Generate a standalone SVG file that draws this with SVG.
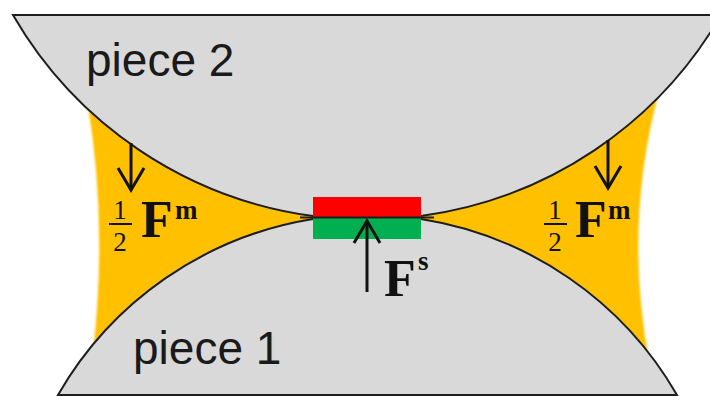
<svg xmlns="http://www.w3.org/2000/svg" width="710" height="396" viewBox="0 0 710 396">
  <style>
    .piece { fill: #d9d9d9; stroke: #1e1e1e; stroke-width: 2; }
    .meniscus { fill: #ffc000; }
    .force { fill: none; stroke: #111; stroke-width: 3; marker-end: url(#head); }
    .label { font-family: "Liberation Sans", Arial, sans-serif; font-size: 46px; fill: #1a1a1a; }
    .math { font-family: "Liberation Serif", "Times New Roman", serif; font-weight: bold; fill: #111; }
    .big { font-size: 52px; }
    .sup { font-size: 27px; }
    .frac { font-size: 27px; font-weight: normal; text-anchor: middle; }
    .bar { stroke: #111; stroke-width: 2; }
  </style>
  <defs>
    <marker id="head" markerUnits="userSpaceOnUse" markerWidth="30" markerHeight="30" viewBox="-26 -15 30 30" refX="0" refY="0" orient="auto">
      <path d="M-22,-13 L0,0 L-22,13" fill="none" stroke="#111" stroke-width="3" stroke-linejoin="miter"/>
    </marker>
    <filter id="soft" x="-5%" y="-5%" width="110%" height="110%">
      <feGaussianBlur stdDeviation="0.8"/>
    </filter>
  </defs>

  <rect width="710" height="396" fill="#ffffff"/>

  <!-- liquid bridges between the two pieces -->
  <g id="meniscus-left">
    <path class="meniscus" filter="url(#soft)" d="M87,100 Q108,222 93,352 L330,352 L330,100 Z"/>
  </g>
  <g id="meniscus-right">
    <path class="meniscus" filter="url(#soft)" d="M660,88 Q623,222 649,360 L400,360 L400,88 Z"/>
  </g>

  <!-- upper body -->
  <g id="piece2">
    <path class="piece" d="M13,15 H721 A410,410 0 0,1 421,216 H313 A410,410 0 0,1 13,15 Z"/>
    <text class="label" x="86" y="76">piece 2</text>
  </g>

  <!-- lower body -->
  <g id="piece1">
    <path class="piece" d="M58,395 A360,360 0 0,1 313,219 H421 A360,360 0 0,1 677,395 Z"/>
    <text class="label" x="133" y="364">piece 1</text>
  </g>

  <!-- contact layers -->
  <g id="contact">
    <rect x="313" y="197" width="108" height="20" fill="#ff0000"/>
    <rect x="313" y="218" width="108" height="21" fill="#00b050"/>
    <line x1="300" y1="217.5" x2="434" y2="217.5" stroke="#1e1e1e" stroke-width="2"/>
  </g>

  <!-- force arrows -->
  <g id="connectors">
    <line class="force" x1="131" y1="143" x2="131" y2="190"/>
    <line class="force" x1="608" y1="140" x2="608" y2="188"/>
    <line class="force" x1="367" y1="292" x2="367" y2="221"/>
  </g>

  <g id="label-left">
    <text class="math frac" x="120" y="219">1</text>
    <line class="bar" x1="109" y1="224" x2="132" y2="224"/>
    <text class="math frac" x="120" y="251">2</text>
    <text class="math big" x="141" y="237">F</text>
    <text class="math sup" x="175" y="219">m</text>
  </g>

  <g id="label-right">
    <text class="math frac" x="555" y="219">1</text>
    <line class="bar" x1="544" y1="224" x2="567" y2="224"/>
    <text class="math frac" x="555" y="251">2</text>
    <text class="math big" x="575" y="237">F</text>
    <text class="math sup" x="608" y="219">m</text>
  </g>

  <g id="label-center">
    <text class="math big" x="384" y="296">F</text>
    <text class="math sup" x="418" y="270">s</text>
  </g>
</svg>
